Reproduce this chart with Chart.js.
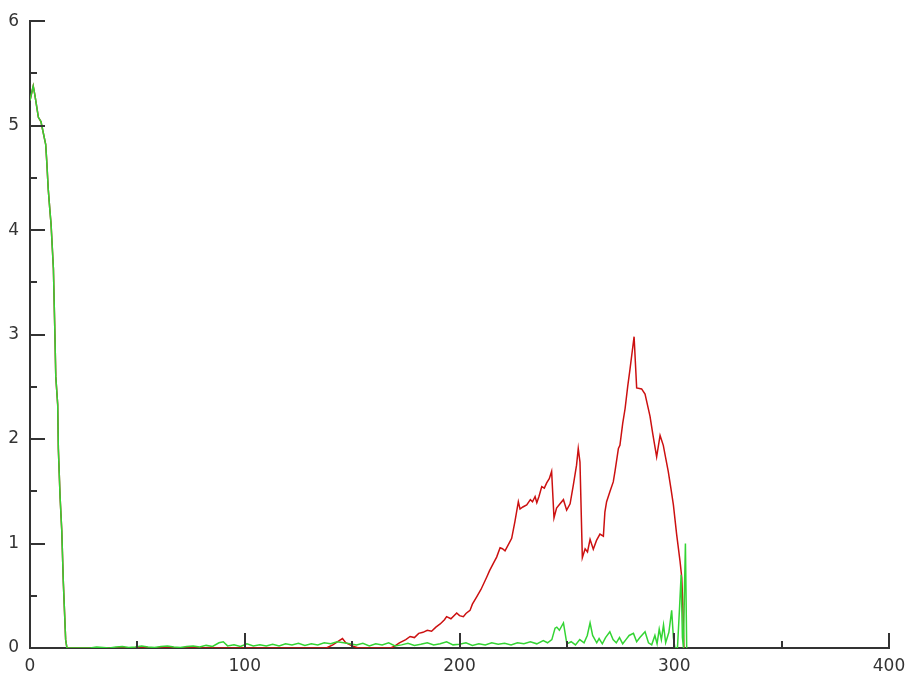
<!DOCTYPE html>
<html>
<head>
<meta charset="utf-8">
<script src="https://cdn.jsdelivr.net/npm/chart.js@4/dist/chart.umd.min.js"></script>
<style>
  html, body { margin: 0; padding: 0; background: #fff; }
  #wrap { width: 916px; height: 675px; }
</style>
</head>
<body>
<div id="wrap"><canvas id="c" width="916" height="675"></canvas></div>
<script>
// ---- data ----
const redX = [0, 1.5, 2.3, 3.9, 5.1, 6.2, 7.3, 7.8, 8.5, 9.3, 9.8, 10.9, 11.6, 12, 12.9, 13.2, 14, 14.8, 15.5, 16.6, 17.2,
  40, 100, 138, 141, 144, 145.5, 147, 150, 153, 168,
  170, 172, 175, 177, 179, 181, 183, 185, 187, 189, 191, 193, 194, 196, 198.7, 200, 201.8, 203, 204.9, 206, 208, 210,
  212.7, 214, 216, 217.3, 218.9, 220, 221.2, 222.5, 224.3, 225.8, 227.4, 228.2, 229.5, 231.3, 233, 234, 235.2, 236, 237,
  238.3, 239.5, 240.6, 241.8, 242.9, 244, 245.2, 246.8, 248.4, 249.9, 251.5, 253, 254.5, 255.3, 256.1, 257.2, 258.5,
  259.6, 260.8, 262.3, 263.8, 265.4, 267, 267.7, 268.5, 270.1, 271.6, 272.4, 274, 274.7, 276, 277.1, 278.3, 279.4, 280.5,
  281.3, 282.5, 284.8, 286.4, 287.5, 288.7, 290, 291.8, 293.4, 294.9, 296, 297.2, 298.5, 299.6, 301.1, 302.7, 303.5, 304, 304.5];
const redY = [5.24, 5.38, 5.29, 5.08, 5.04, 4.93, 4.82, 4.66, 4.39, 4.18, 4.06, 3.63, 3.0, 2.6, 2.33, 1.91, 1.45, 1.12, 0.64, 0.08, 0,
  0, 0, 0, 0.03, 0.07, 0.09, 0.05, 0.02, 0, 0,
  0.02, 0.05, 0.08, 0.11, 0.1, 0.14, 0.15, 0.17, 0.16, 0.2, 0.23, 0.27, 0.3, 0.28, 0.335, 0.31, 0.3, 0.33, 0.36, 0.42, 0.49, 0.56,
  0.68, 0.74, 0.82, 0.87, 0.96, 0.95, 0.93, 0.98, 1.05, 1.21, 1.4, 1.33, 1.35, 1.37, 1.42, 1.4, 1.45, 1.39, 1.45,
  1.545, 1.53, 1.58, 1.62, 1.69, 1.245, 1.34, 1.38, 1.42, 1.32, 1.38, 1.56, 1.75, 1.91, 1.78, 0.865, 0.95,
  0.92, 1.04, 0.945, 1.03, 1.09, 1.07, 1.3, 1.4, 1.5, 1.59, 1.69, 1.91, 1.94, 2.15, 2.29, 2.5, 2.67, 2.85,
  2.98, 2.49, 2.48, 2.43, 2.33, 2.22, 2.05, 1.83, 2.035, 1.94, 1.82, 1.69, 1.52, 1.37, 1.09, 0.83, 0.675, 0.4, 0];

const greenX = [0, 1.5, 2.3, 3.9, 5.1, 6.2, 7.3, 7.8, 8.5, 9.3, 9.8, 10.9, 11.6, 12, 12.9, 13.2, 14, 14.8, 15.5, 16.6, 17.2,
  28, 31, 34, 37, 40, 43, 46, 49, 52, 55, 58, 61, 64, 67, 70, 73, 76, 79, 82, 85, 88, 90, 92, 95, 98, 101, 104, 107,
  110, 113, 116, 119, 122, 125, 128, 131, 134, 137, 140, 143, 146, 149, 152, 155, 158, 161, 164, 167, 170, 173, 176,
  179, 182, 185, 188, 191, 194, 197, 200, 203, 206, 209, 212, 215, 218, 221, 224, 227, 230, 233, 236, 239, 241, 243,
  244.5, 245.3, 246.5, 248.4, 250, 252, 254, 256, 258, 259.5, 260.8, 262, 263.9, 265, 266.5, 268, 270, 271.5, 273,
  274.5, 276, 277.5, 279, 281, 282.5, 284, 286.4, 288, 289.5, 291, 292, 293, 294, 295, 296, 297.5, 298.8, 299.6,
  300.3, 301.5, 302.5, 303.2, 303.8, 304.3, 304.8, 305.2, 305.8];
const greenY = [5.24, 5.38, 5.29, 5.08, 5.04, 4.93, 4.82, 4.66, 4.39, 4.18, 4.06, 3.63, 3.0, 2.6, 2.33, 1.91, 1.45, 1.12, 0.64, 0.08, 0,
  0, 0.01, 0.005, 0, 0.01, 0.015, 0.005, 0.01, 0.02, 0.01, 0.005, 0.015, 0.02, 0.01, 0.005, 0.015, 0.02, 0.01, 0.025, 0.015, 0.05, 0.06, 0.02, 0.03, 0.015, 0.04, 0.02, 0.03,
  0.02, 0.035, 0.02, 0.04, 0.03, 0.045, 0.025, 0.04, 0.03, 0.05, 0.04, 0.06, 0.05, 0.04, 0.03, 0.045, 0.02, 0.04, 0.03, 0.05, 0.02, 0.03, 0.045,
  0.025, 0.035, 0.05, 0.03, 0.04, 0.06, 0.03, 0.035, 0.05, 0.025, 0.04, 0.03, 0.05, 0.035, 0.045, 0.03, 0.05, 0.04, 0.06, 0.04, 0.07, 0.05, 0.08,
  0.19, 0.2, 0.17, 0.24, 0.04, 0.06, 0.03, 0.08, 0.05, 0.12, 0.24, 0.12, 0.05, 0.09, 0.04, 0.1, 0.155, 0.08, 0.05,
  0.1, 0.04, 0.08, 0.12, 0.14, 0.06, 0.1, 0.155, 0.05, 0.03, 0.12, 0.04, 0.18, 0.08, 0.22, 0.05, 0.15, 0.36, 0.1,
  0, 0, 0.4, 0.7, 0.1, 0, 0.6, 1.0, 0];

const xTickLabels = [0, 100, 200, 300, 400];
const yTickLabels = [0, 1, 2, 3, 4, 5, 6];

// ---- chart ----
const toPoints = (xs, ys) => xs.map((x, i) => ({ x: x, y: ys[i] }));

const inwardTicks = {
  id: 'inwardTicks',
  afterDraw(chart) {
    const ctx = chart.ctx;
    const xs = chart.scales.x, ys = chart.scales.y;
    const area = chart.chartArea;
    ctx.save();
    ctx.strokeStyle = '#333';
    ctx.lineWidth = 2;
    ctx.beginPath();
    ys.ticks.forEach(t => {
      const py = Math.round(ys.getPixelForValue(t.value));
      const major = yTickLabels.includes(t.value);
      ctx.moveTo(area.left, py);
      ctx.lineTo(area.left + (major ? 15 : 7), py);
    });
    xs.ticks.forEach(t => {
      const px = Math.round(xs.getPixelForValue(t.value));
      const major = xTickLabels.includes(t.value);
      ctx.moveTo(px, area.bottom);
      ctx.lineTo(px, area.bottom - (major ? 15 : 7));
    });
    ctx.stroke();
    ctx.restore();
  }
};

new Chart(document.getElementById('c'), {
  type: 'line',
  data: {
    datasets: [
      {
        label: 'green',
        data: toPoints(greenX, greenY),
        borderColor: '#33d433',
        borderWidth: 1.5,
        pointRadius: 0,
        tension: 0,
        fill: false
      },
      {
        label: 'red',
        data: toPoints(redX, redY),
        borderColor: '#cc1010',
        borderWidth: 1.5,
        pointRadius: 0,
        tension: 0,
        fill: false
      }
    ]
  },
  options: {
    responsive: false,
    animation: false,
    parsing: true,
    layout: { padding: { top: 15, right: 27, left: 0, bottom: 0 } },
    plugins: { legend: { display: false }, tooltip: { enabled: false } },
    scales: {
      x: {
        type: 'linear',
        min: 0, max: 400,
        afterFit(s) { s.height = 27; },
        grid: { display: false, drawTicks: false },
        border: { display: true, color: '#333', width: 2 },
        ticks: {
          stepSize: 50,
          padding: 8,
          maxRotation: 0,
          autoSkip: false,
          color: '#333',
          font: { family: 'DejaVu Sans', size: 17 },
          callback: v => xTickLabels.includes(v) ? String(v) : ''
        }
      },
      y: {
        type: 'linear',
        min: 0, max: 6,
        afterFit(s) { s.width = 30; },
        grid: { display: false, drawTicks: false },
        border: { display: true, color: '#333', width: 2 },
        ticks: {
          stepSize: 0.5,
          padding: 11,
          autoSkip: false,
          color: '#333',
          font: { family: 'DejaVu Sans', size: 17 },
          callback: v => yTickLabels.includes(v) ? String(v) : ''
        }
      }
    }
  },
  plugins: [inwardTicks]
});
</script>
</body>
</html>
